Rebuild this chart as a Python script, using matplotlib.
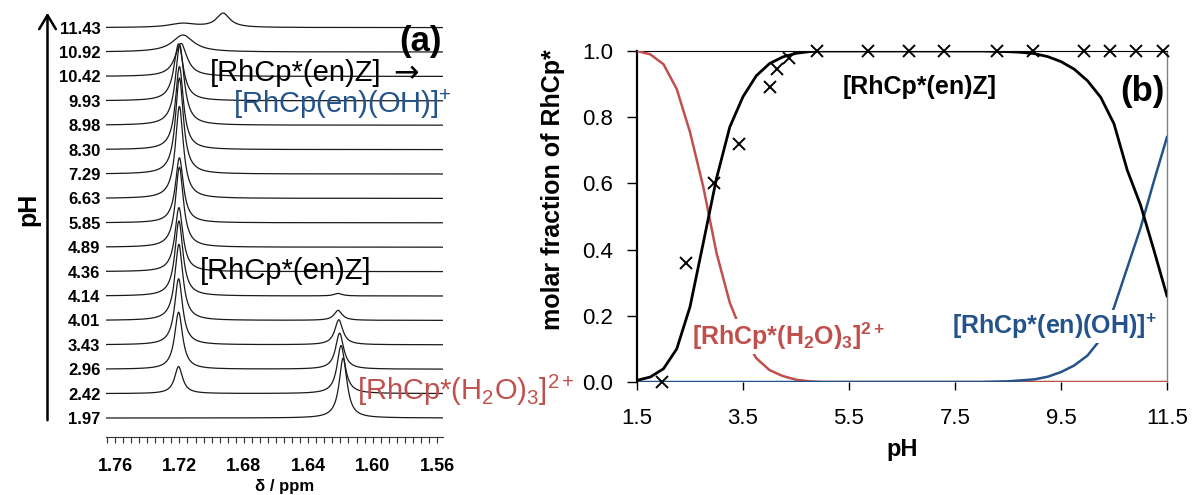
import numpy as np
import matplotlib
matplotlib.use('Agg')
import matplotlib.pyplot as plt
from matplotlib.ticker import FixedLocator, MultipleLocator
from matplotlib.patches import FancyArrowPatch

plt.rcParams['font.family'] = ['Liberation Sans', 'DejaVu Sans']
plt.rcParams['mathtext.fontset'] = 'custom'
plt.rcParams['mathtext.rm'] = 'Liberation Sans'
plt.rcParams['mathtext.it'] = 'Liberation Sans:italic'
plt.rcParams['mathtext.bf'] = 'Liberation Sans:bold'

# ---------------- data ----------------
# NMR spectra (panel a)
ph_values = [1.97, 2.42, 2.96, 3.43, 4.01, 4.14, 4.36, 4.89, 5.85, 6.63,
             7.29, 8.30, 8.98, 9.93, 10.42, 10.92, 11.43]
ph_labels = ['1.97', '2.42', '2.96', '3.43', '4.01', '4.14', '4.36', '4.89', '5.85',
             '6.63', '7.29', '8.30', '8.98', '9.93', '10.42', '10.92', '11.43']
main_shift = [1.7205, 1.7205, 1.7205, 1.7205, 1.7203, 1.7203, 1.7203, 1.7200, 1.7200,
              1.7200, 1.7200, 1.7200, 1.7198, 1.7205, 1.7190, 1.7178, 1.7180]
main_height = [0, 27, 57, 66, 76, 75, 64, 80, 65, 92, 96, 83, 80, 57, 33, 17, 4]
main_fwhm = [0.006, 0.006, 0.006, 0.006, 0.006, 0.006, 0.006, 0.006, 0.006, 0.006,
             0.006, 0.006, 0.0065, 0.007, 0.009, 0.016, 0.02]
aqua_shift = [1.6183, 1.6196, 1.6205, 1.6210, 1.6214, 1.6214, 1.6214, 1.6214, 1.6214,
              1.6214, 1.6214, 1.6214, 1.6214, 1.6214, 1.6214, 1.6214, 1.6214]
aqua_height = [60, 48, 36, 25, 10, 2.5, 0, 0, 0, 0, 0, 0, 0, 0, 0, 0, 0]
aqua_fwhm = 0.006
oh_shift = [None] * 16 + [1.6928]
oh_height = [0] * 16 + [14]
oh_fwhm = 0.010
delta_ticks = [1.76, 1.72, 1.68, 1.64, 1.60, 1.56]

# Speciation (panel b)
ph_grid = [1.5, 1.75, 2.0, 2.25, 2.5, 2.75, 3.0, 3.25, 3.5, 3.75, 4.0, 4.25, 4.5, 4.75,
           5.0, 5.5, 6.0, 6.5, 7.0, 7.5, 8.0, 8.25, 8.5, 8.75, 9.0, 9.25, 9.5, 9.75,
           10.0, 10.25, 10.5, 10.75, 11.0, 11.25, 11.5]
frac_aqua = [1.0, 0.99, 0.96, 0.885, 0.755, 0.59, 0.39, 0.24, 0.14, 0.072, 0.036, 0.018,
             0.007, 0.002, 0.0, 0.0, 0.0, 0.0, 0.0, 0.0, 0.0, 0.0, 0.0, 0.0, 0.0, 0.0,
             0.0, 0.0, 0.0, 0.0, 0.0, 0.0, 0.0, 0.0, 0.0]
frac_enz = [0.005, 0.015, 0.04, 0.10, 0.227, 0.42, 0.615, 0.77, 0.862, 0.925, 0.962,
            0.982, 0.993, 0.998, 1.0, 1.0, 1.0, 1.0, 1.0, 1.0, 1.0, 0.999, 0.998, 0.996,
            0.992, 0.983, 0.968, 0.945, 0.91, 0.86, 0.78, 0.64, 0.535, 0.40, 0.26]
frac_oh = [0.0, 0.0, 0.0, 0.0, 0.0, 0.0, 0.0, 0.0, 0.0, 0.0, 0.0, 0.0, 0.0, 0.0, 0.0,
           0.0, 0.0, 0.0, 0.0, 0.0, 0.0, 0.001, 0.002, 0.005, 0.008, 0.016, 0.03, 0.05,
           0.08, 0.13, 0.225, 0.345, 0.465, 0.605, 0.74]
nmr_frac = [0.0, 0.36, 0.60, 0.72, 0.89, 0.945, 0.98, 1.0, 1.0, 1.0, 1.0, 1.0, 1.0,
            1.0, 1.0, 1.0, 1.0]
ph_ticks = [1.5, 3.5, 5.5, 7.5, 9.5, 11.5]
frac_ticks = [0.0, 0.2, 0.4, 0.6, 0.8, 1.0]

RED = '#C0504D'
BLUE = '#24528A'

W, H = 1195, 495
fig = plt.figure(figsize=(W / 100, H / 100), dpi=100)


def rect(l, t, r, b):
    return [l / W, 1 - b / H, (r - l) / W, (b - t) / H]


def ftext(x, y, s, **kw):
    return fig.text(x / W, 1 - y / H, s, **kw)


def lorentz(x, x0, h, fwhm):
    return h / (1 + ((x - x0) / (fwhm / 2)) ** 2)


# ---------------- panel (a) ----------------
axA = fig.add_axes(rect(106, 0, 443, 437))
xlo, xhi = 1.5563, 1.7656
axA.set_xlim(xhi, xlo)
axA.set_ylim(0, 437)
delta = np.linspace(xlo, xhi, 3000)
spacing = 24.4
base0 = 19
baselines = [base0 + i * spacing for i in range(len(ph_values))]
for i in range(len(ph_values)):
    spec = lorentz(delta, main_shift[i], main_height[i], main_fwhm[i])
    spec += lorentz(delta, aqua_shift[i], aqua_height[i], aqua_fwhm)
    if oh_shift[i] is not None:
        spec += lorentz(delta, oh_shift[i], oh_height[i], oh_fwhm)
    axA.plot(delta, baselines[i] + spec, color='#1a1a1a', lw=0.9)

for s in ['left', 'top', 'right']:
    axA.spines[s].set_visible(False)
axA.spines['bottom'].set_linewidth(0.8)
axA.spines['bottom'].set_color('#333333')
axA.xaxis.set_major_locator(FixedLocator(delta_ticks))
axA.set_xticklabels(['%.2f' % v for v in delta_ticks], fontsize=13, fontweight='bold')
axA.xaxis.set_minor_locator(MultipleLocator(0.005))
axA.tick_params(axis='x', which='both', direction='out', length=4, width=0.8,
                color='#333333', pad=11)
axA.set_yticks(baselines)
axA.set_yticklabels(ph_labels, fontsize=12, fontweight='bold')
axA.tick_params(axis='y', length=0, pad=4)

ftext(285, 487, 'δ / ppm', ha='center', va='center', fontsize=12, fontweight='bold')
ftext(28, 209, 'pH', ha='center', va='center', rotation=90, fontsize=18, fontweight='bold')
fig.add_artist(FancyArrowPatch((47.5 / W, 1 - 423 / H), (47.5 / W, 1 - 10 / H),
                               transform=fig.transFigure,
                               arrowstyle='->,head_length=0.5,head_width=0.3',
                               mutation_scale=20, lw=1.8, color='black'))

ftext(442, 41, '(a)', ha='right', va='center', fontsize=25, fontweight='bold')
ftext(210, 81, '[RhCp*(en)Z]', ha='left', va='baseline', fontsize=21)
ftext(406, 74, '→', ha='center', va='center', fontsize=22, family='DejaVu Sans')
ftext(233, 113, r'[RhCp(en)(OH)]$^{+}$', ha='left', va='baseline', fontsize=21, color=BLUE)
ftext(200, 279, '[RhCp*(en)Z]', ha='left', va='baseline', fontsize=21)
ftext(357, 400, r'[RhCp*(H$_{2}$O)$_{3}$]$^{2+}$', ha='left', va='baseline',
      fontsize=21, color=RED)

# ---------------- panel (b) ----------------
axB = fig.add_axes(rect(637, 51, 1167, 382))
axB.set_xlim(1.5, 11.5)
axB.set_ylim(0, 1)
axB.plot(ph_grid, frac_aqua, color=RED, lw=1.8, zorder=3)
axB.plot(ph_grid, frac_oh, color=BLUE, lw=1.8, zorder=4)
axB.plot(ph_grid, frac_enz, color='black', lw=2.0, zorder=5)
axB.plot(ph_values, nmr_frac, linestyle='none', marker='x', color='black',
         markersize=8, markeredgewidth=1.4, clip_on=False, zorder=6)

axB.spines['left'].set_linewidth(1.6)
axB.spines['top'].set_linewidth(0.8)
axB.spines['right'].set_linewidth(1.0)
axB.spines['right'].set_color('#808080')
axB.spines['bottom'].set_visible(False)
axB.set_xticks(ph_ticks)
axB.set_xticklabels(['%.1f' % v for v in ph_ticks], fontsize=16)
axB.set_yticks(frac_ticks)
axB.set_yticklabels(['%.1f' % v for v in frac_ticks], fontsize=16)
axB.tick_params(axis='x', direction='out', length=6, width=1.0, pad=13)
axB.tick_params(axis='y', direction='out', length=7, width=1.0, pad=10)
axB.set_xlabel('pH', fontsize=17, fontweight='bold', labelpad=6)
ftext(553, 190, 'molar fraction of RhCp*', ha='center', va='center', rotation=90,
      fontsize=18, fontweight='bold')

wb = dict(facecolor='white', edgecolor='none', pad=1)
axB.text((843 - 637) / 530, (382 - 87) / 331, '[RhCp*(en)Z]', transform=axB.transAxes,
         ha='left', va='center', fontsize=18, fontweight='bold', zorder=7)
axB.text((1165 - 637) / 530, (382 - 91) / 331, '(b)', transform=axB.transAxes,
         ha='right', va='center', fontsize=25, fontweight='bold', zorder=7, bbox=wb)
axB.text((692 - 637) / 530, (382 - 345) / 331,
         r'[RhCp*(H$_\mathbf{2}$O)$_\mathbf{3}$]$^\mathbf{2+}$', transform=axB.transAxes,
         ha='left', va='baseline', fontsize=18, fontweight='bold', color=RED, zorder=7,
         bbox=wb)
axB.text((952 - 637) / 530, (382 - 334) / 331, r'[RhCp*(en)(OH)]$^\mathbf{+}$',
         transform=axB.transAxes, ha='left', va='baseline', fontsize=18,
         fontweight='bold', color=BLUE, zorder=7, bbox=wb)

fig.savefig('out.png', dpi=100)
